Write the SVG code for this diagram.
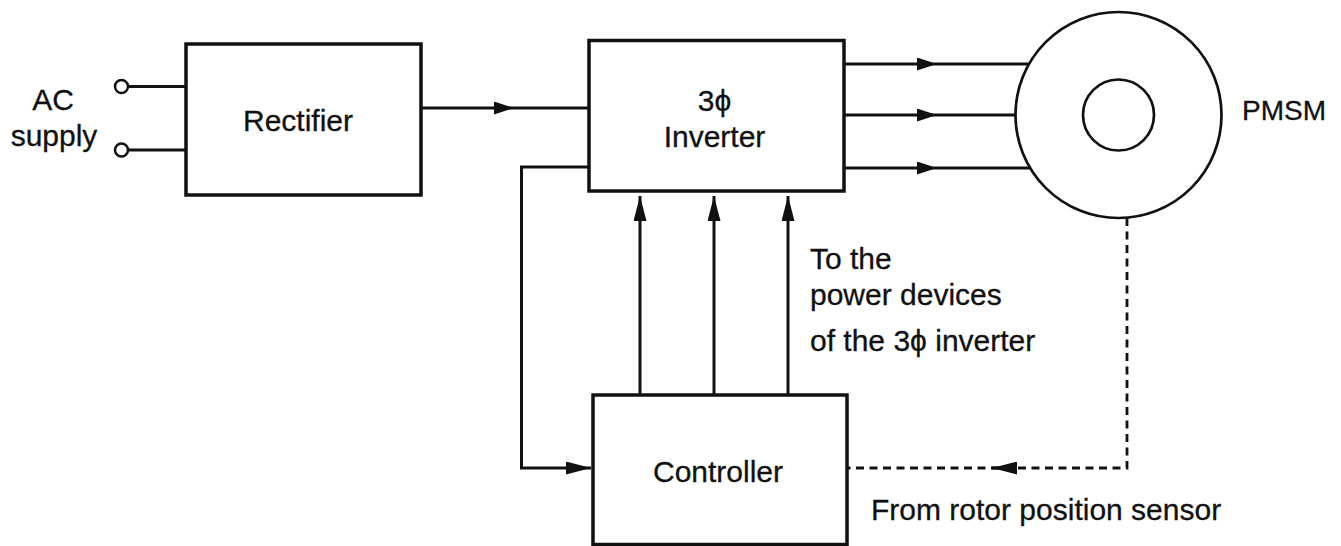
<svg xmlns="http://www.w3.org/2000/svg" width="1341" height="546" viewBox="0 0 1341 546">
<style>
text{font-family:"Liberation Sans","DejaVu Sans",Arial,sans-serif;font-size:30px;fill:#111;stroke:#111;stroke-width:0.3}
.box{fill:#fff;stroke:#111;stroke-width:3.5}
.ln{fill:none;stroke:#111;stroke-width:3}
.dash{fill:none;stroke:#111;stroke-width:2.8;stroke-dasharray:8 5.5}
.term{fill:#fff;stroke:#111;stroke-width:2.5}
.mid{text-anchor:middle}
</style>
<defs>
<marker id="ah" viewBox="0 0 20 13" refX="20" refY="6.5" markerWidth="20" markerHeight="13" markerUnits="userSpaceOnUse" orient="auto">
<path d="M0,0 L20,6.5 L0,13 z" fill="#111"/>
</marker>
<marker id="ahl" viewBox="0 0 25 13" refX="25" refY="6.5" markerWidth="25" markerHeight="13" markerUnits="userSpaceOnUse" orient="auto">
<path d="M0,0 L25,6.5 L0,13 z" fill="#111"/>
</marker>
</defs>
<rect width="1341" height="546" fill="#fff"/>

<g id="connectors">
<line class="ln" x1="128" y1="86.5" x2="186" y2="86.5"/>
<line class="ln" x1="128" y1="150" x2="186" y2="150"/>
<path class="ln" d="M421,108 L514,108" marker-end="url(#ah)"/>
<line class="ln" x1="514" y1="108" x2="589" y2="108"/>
<path class="ln" d="M844,64 L937,64" marker-end="url(#ah)"/>
<line class="ln" x1="937" y1="64" x2="1029" y2="64"/>
<path class="ln" d="M844,115 L937,115" marker-end="url(#ah)"/>
<line class="ln" x1="937" y1="115" x2="1016" y2="115"/>
<path class="ln" d="M844,168 L937,168" marker-end="url(#ah)"/>
<line class="ln" x1="937" y1="168" x2="1030" y2="168"/>
<path class="ln" d="M640,395 L640,196" marker-end="url(#ahl)"/>
<path class="ln" d="M714,395 L714,196" marker-end="url(#ahl)"/>
<path class="ln" d="M788,395 L788,196" marker-end="url(#ahl)"/>
<path class="ln" d="M589,167 L521.5,167 L521.5,468 L591,468" marker-end="url(#ahl)"/>
<path class="dash" d="M1127,218 L1127,468 L847,468"/>
<path class="ln" d="M1017,468 L992,468" marker-end="url(#ahl)"/>
</g>

<g id="ac-supply">
<circle class="term" cx="121.5" cy="86.5" r="6.5"/>
<circle class="term" cx="121.5" cy="150" r="6.5"/>
<text class="mid" x="53" y="110">AC</text>
<text class="mid" x="54" y="146">supply</text>
</g>

<g id="rectifier">
<rect class="box" x="186" y="44" width="235" height="151"/>
<text class="mid" x="298" y="131">Rectifier</text>
</g>

<g id="inverter">
<rect class="box" x="589" y="40.5" width="255" height="150.5"/>
<text class="mid" x="714.5" y="111">3ϕ</text>
<text class="mid" x="714.5" y="147">Inverter</text>
</g>

<g id="pmsm">
<circle fill="#fff" stroke="#111" stroke-width="2.7" cx="1118.5" cy="115" r="103"/>
<circle fill="none" stroke="#111" stroke-width="2.7" cx="1118.5" cy="115" r="35.5"/>
<text x="1242" y="120" style="font-size:28px">PMSM</text>
</g>

<g id="controller">
<rect class="box" x="593" y="395" width="254" height="149.5"/>
<text class="mid" x="718" y="482">Controller</text>
</g>

<g id="labels">
<text x="810" y="269">To the</text>
<text x="810" y="305">power devices</text>
<text x="810" y="351">of the 3ϕ inverter</text>
<text x="871" y="520">From rotor position sensor</text>
</g>
</svg>
